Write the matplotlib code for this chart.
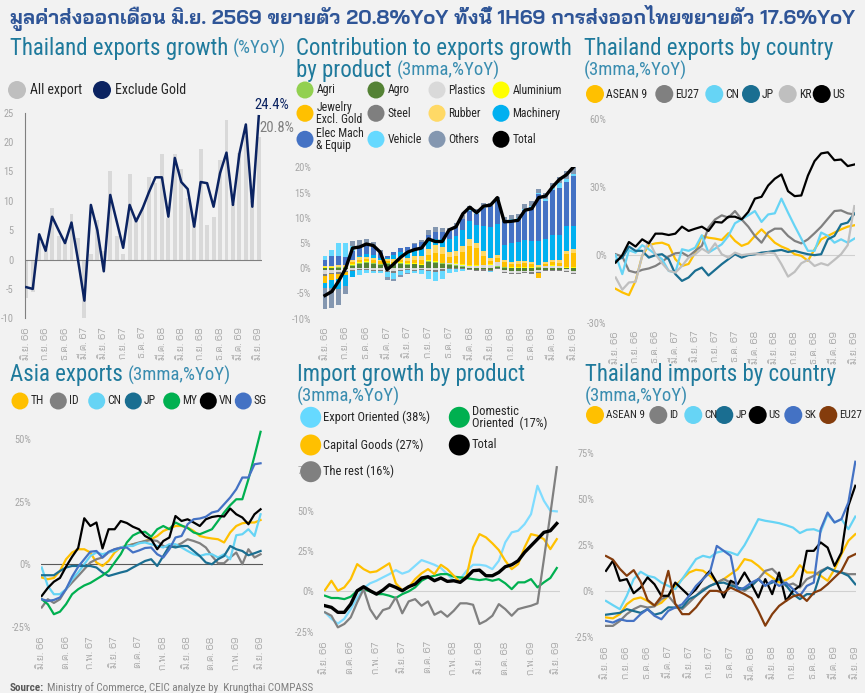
import numpy as np
import matplotlib
matplotlib.use("Agg")
import matplotlib.pyplot as plt
from matplotlib.patches import Circle

# ---------------- data ----------------
months = np.arange(37)  # มิ.ย. 66 ... มิ.ย. 69
labels_3m = ['มิ.ย. 66', 'ก.ย. 66', 'ธ.ค. 66', 'มี.ค. 67', 'มิ.ย. 67', 'ก.ย. 67', 'ธ.ค. 67',
             'มี.ค. 68', 'มิ.ย. 68', 'ก.ย. 68', 'ธ.ค. 68', 'มี.ค. 69', 'มิ.ย. 69']
labels_4m = ['มิ.ย. 66', 'ต.ค. 66', 'ก.พ. 67', 'มิ.ย. 67', 'ต.ค. 67', 'ก.พ. 68', 'มิ.ย. 68',
             'ต.ค. 68', 'ก.พ. 69', 'มิ.ย. 69']

# Thailand exports growth (%YoY)
all_export = [-6.5, -5.5, 3.0, 1.8, 8.7, 4.0, 3.0, 7.8, 3.6, -10.0, 1.0, 6.8, 1.5, 15.0, 4.0, 1.0, 14.5, 7.2, 9.0,
              14.0, 13.0, 18.0, 7.0, 18.0, 15.5, 10.5, 6.0, 18.8, 5.8, 7.2, 17.0, 23.8, 9.5, 18.2, 21.0, 10.0, 20.8]
exclude_gold = [-4.7, -5.0, 4.3, 1.5, 7.3, 5.0, 2.8, 6.3, 0.0, -7.0, 9.3, 5.0, -2.0, 11.0, 6.5, 2.0, 9.3, 6.5, 8.7,
                11.5, 14.0, 14.0, 7.3, 17.3, 13.2, 12.0, 5.6, 13.2, 13.0, 9.0, 14.7, 18.2, 9.3, 18.0, 23.0, 9.0, 24.4]

# Contribution to exports growth by product (3mma, %YoY)
agri = [0.1, 0.1, 0.2, 0.2, 0.2, 0.3, 0.2, 0.2, 0.1, 0.1, 0.1, 0.2, 0.2, 0.1, 0.1, 0.2, 0.2, 0.1, 0.1,
        0.2, 0.1, 0.1, 0.1, 0.1, 0.1, 0.1, 0.2, 0.1, 0.1, 0.1, 0.1, 0.2, 0.1, 0.1, 0.1, 0.1, 0.1]
agro = [-0.4, -0.3, -0.3, -0.2, 0.5, 0.8, 1.0, 0.8, 0.7, 0.9, 0.8, 0.9, 0.7, 0.8, 0.6, 1.2, 1.1, 0.9, 0.7,
        0.4, 0.3, -0.2, -0.3, -0.2, -0.4, 0.3, -0.4, -0.5, -0.6, -0.5, -0.6, -0.4, -0.3, -0.3, -0.4, -0.2, -0.6]
plastics = [-0.8, -0.6, -0.5, -0.3, -0.3, -0.2, -0.2, -0.3, -0.4, -0.5, -0.6, -0.3, -0.2, -0.3, -0.2, -0.3, -0.3,
            -0.2, 0.2, 0.3, 0.3, 0.4, 0.4, 0.5, 0.6, 0.8, -0.3, -0.4, -0.3, -0.3, -0.2, -0.3, 0.3, 0.4, 0.3, -0.3, -0.3]
aluminium = [0.1, 0.1, 0.1, 0.1, 0.1, 0.1, 0.2, 0.1, 0.1, 0.1, 0.1, 0.1, 0.1, 0.1, 0.1, 0.2, 0.2, 0.1, 0.1,
             0.1, 0.1, 0.1, 0.1, 0.1, 0.1, 0.1, 0.1, 0.1, 0.1, 0.1, 0.1, 0.1, 0.1, 0.1, 0.1, 0.1, 0.1]
jewelry = [-1.5, -1.2, -1.0, -0.6, 0.4, 0.5, 0.4, 0.6, 0.5, 0.3, 0.3, 0.4, 0.5, 0.7, 0.8, 1.0, 1.6, 1.8, 1.2,
           1.5, 2.5, 3.8, 3.4, 1.8, 0.6, 0.8, 0.9, 0.6, 0.7, 0.8, 0.6, -1.0, 0.4, 0.6, 0.5, 2.6, 2.8]
steel = [-0.3, -0.2, -0.3, -0.2, -0.2, -0.1, -0.1, -0.2, -0.2, -0.3, -0.3, -0.2, -0.2, -0.2, -0.2, -0.3, -0.4,
         -0.3, -0.2, -0.2, -0.2, -0.2, -0.3, -0.3, -0.2, -0.2, -0.3, -0.3, -0.3, -0.2, -0.3, -0.2, -0.2, -0.2, -0.2, -0.2, -0.3]
rubber = [0.2, 0.3, 0.3, 0.4, 0.4, 0.5, 0.5, 0.4, 0.3, 0.4, 0.5, 0.6, 0.6, 0.7, 0.9, 1.3, 1.5, 1.4, 0.9,
          1.0, 1.1, 1.3, 1.0, 0.9, 0.7, 0.6, 0.5, 0.4, 0.5, 0.5, 0.4, 0.3, 0.4, 0.5, 0.6, 0.7, 0.8]
machinery = [-1.0, -1.6, -2.0, -2.2, -1.2, 0.3, 0.6, 0.5, 0.4, 0.3, 0.8, 1.0, 1.2, 1.3, 1.4, 1.6, 1.2, 1.5, 2.6,
             2.8, 3.2, 3.6, 3.5, 5.0, 6.0, 6.0, 3.0, 3.8, 3.7, 4.0, 4.2, 4.8, 4.5, 4.8, 5.0, 4.8, 4.6]
elec = [1.3, 2.0, 1.8, 1.5, 1.8, 2.0, 2.0, 1.8, 1.0, 0.3, 0.6, 0.8, 1.0, 1.1, 1.2, 1.0, 1.4, 1.3, 1.6,
        1.8, 2.2, 2.0, 2.2, 3.6, 4.3, 4.8, 4.6, 4.5, 4.6, 6.0, 6.8, 9.3, 7.6, 9.0, 9.2, 8.8, 9.8]
vehicle = [0.8, 1.2, 2.6, 2.8, 1.0, -1.0, -0.6, -0.5, -0.4, -1.0, -1.2, -0.8, -0.5, -0.4, -0.8, -1.5, -1.8, -1.6,
           -0.8, -0.5, -0.3, 0.2, 0.3, 0.2, -0.2, 0.2, 0.2, 0.3, 0.2, 0.3, 0.2, 0.2, 0.3, 0.4, 1.0, 0.6, 0.4]
others = [-4.0, -4.0, -3.2, -1.7, 0.9, 1.0, 0.9, 0.8, 0.6, -0.6, -0.5, -0.4, -0.3, 0.2, 0.5, 1.1, 1.0, 0.8, 0.6,
          0.9, 0.8, 0.9, 0.8, 0.7, 0.5, 0.5, 0.6, 0.8, 0.9, 1.0, 0.9, 0.8, 1.2, 1.0, 1.3, 1.5, 1.8]
total_contrib = [-5.4, -4.6, -2.5, 0.0, 4.0, 4.2, 4.8, 4.5, 3.2, -0.3, 0.9, 2.2, 3.2, 3.7, 4.0, 5.8, 5.3, 5.3, 7.6,
                 8.2, 10.8, 12.1, 11.0, 12.3, 12.5, 14.0, 9.2, 9.3, 9.5, 11.5, 11.8, 14.0, 14.3, 16.1, 17.6, 18.5, 20.0]

# Thailand exports by country (3mma, %YoY)
ex_asean = [-15.0, -16.6, -17.8, -11.5, -0.4, 4.3, 5.1, 5.4, 4.3, -1.9, -4.9, -4.0, 1.0, 8.4, 7.6, 7.2, 6.6, 9.6, 6.2,
            4.0, 5.1, 8.4, 11.3, 8.4, 5.4, 3.7, 2.5, 0.3, -0.4, -2.6, 2.5, 6.9, 8.4, 9.9, 11.3, 12.5, 13.1]
ex_eu = [0.3, -0.7, -7.0, -7.8, -6.6, -6.0, -4.9, -3.1, -0.7, 0.7, 1.0, -0.7, 1.8, 4.0, 12.1, 15.7, 17.5, 16.5, 19.4,
         15.7, 12.5, 8.4, 5.4, 9.9, 11.6, 11.6, 8.4, 6.2, 5.1, 6.9, 9.6, 12.5, 16.0, 19.4, 19.7, 18.4, 17.9]
ex_cn = [-0.1, -8.5, 2.1, 1.0, 4.3, 2.5, 0.3, -1.9, -7.1, -7.8, 2.5, 1.8, 3.2, 8.7, 1.0, 2.8, 4.7, 8.4, 14.0,
         15.7, 17.5, 19.4, 14.6, 17.9, 18.4, 24.9, 18.7, 12.8, 7.2, 1.8, 1.8, 9.9, 8.4, 5.4, 6.9, 5.4, 7.2]
ex_jp = [-2.6, -1.2, 3.7, 1.8, 1.8, -1.2, -0.1, 0.3, -1.9, -8.5, -11.5, -10.0, -7.0, -5.6, -9.1, -6.6, -4.1, -1.9, 0.3,
         -1.2, -0.1, 0.3, 1.0, 1.3, 1.8, 2.2, 1.3, 1.8, 1.0, 0.3, -0.1, 0.3, 6.9, 8.4, 13.5, 14.3, 18.4]
ex_kr = [-10.0, -15.4, -12.2, -11.9, -0.4, 6.2, 0.3, -3.7, -7.0, -7.8, -4.9, -1.2, 0.3, 2.8, 1.0, 5.1, 0.3, -1.2, 1.0,
         -0.1, 0.3, 0.6, 0.3, 1.0, 0.7, -4.1, -9.6, -7.5, -3.7, -2.2, -4.9, -3.7, -4.6, -2.2, 0.3, 4.3, 21.6]
ex_us = [-3.4, -0.1, 5.7, 3.7, 6.9, 5.1, 9.4, 9.4, 8.8, 9.4, 12.5, 10.6, 11.6, 12.5, 10.6, 14.6, 14.3, 16.9, 16.9,
         15.7, 19.0, 24.9, 25.7, 30.7, 33.7, 35.6, 28.2, 26.0, 26.3, 35.1, 41.5, 44.9, 45.4, 41.9, 42.2, 39.3, 40.0]

# Asia exports (3mma, %YoY)
as_th = [-5.3, -6.0, -5.5, -2.7, 2.0, 4.7, 6.0, 6.0, 4.7, 0.7, -0.7, 1.3, 4.7, 6.7, 7.3, 8.0, 8.4, 9.3, 10.0,
         11.3, 13.3, 14.3, 15.3, 15.3, 14.7, 13.3, 11.3, 10.7, 10.3, 10.0, 8.7, 12.7, 15.3, 16.4, 16.7, 16.7, 17.7]
as_id = [-17.3, -14.0, -15.5, -14.0, -10.0, -7.3, -4.7, -2.0, 0.7, 2.0, 2.7, 4.7, 6.0, 6.7, 7.3, 8.0, 8.7, 9.3, 9.7,
         9.3, 7.3, 6.7, 7.3, 8.4, 10.0, 9.3, 8.4, 6.7, 3.3, 0.4, 0.4, 2.7, 4.7, 0.0, 6.0, 2.7, 4.0]
as_cn = [-1.3, -8.7, -12.0, -12.0, -10.0, -6.0, -3.3, 0.0, 3.3, 4.7, 4.0, 4.7, 5.3, 6.7, 7.3, 7.3, 8.4, 8.7, 8.0,
         7.3, 6.7, 8.0, 8.0, 6.7, 5.3, 4.0, 3.3, 4.0, 4.0, 2.7, 4.0, 2.0, 11.6, 12.0, 14.0, 11.3, 20.0]
as_jp = [-4.4, -4.4, -4.4, -2.7, -1.3, -0.7, -0.7, -0.7, -0.7, -1.3, -3.3, -4.7, -4.0, -3.3, -2.7, -1.3, 0.0, 1.3, 2.0,
         -0.7, 3.3, 7.3, 6.7, 7.3, 7.3, 5.3, 3.3, 0.7, 0.0, 2.0, 3.3, 7.3, 6.0, 5.3, 3.6, 4.4, 5.3]
as_my = [-14.0, -16.0, -20.0, -19.0, -16.0, -12.0, -10.0, -8.5, -7.5, -6.0, -4.5, -2.7, 0.7, 4.0, 8.7, 11.5, 12.7, 13.0,
         11.0, 14.0, 15.3, 14.0, 16.7, 15.5, 14.5, 12.7, 12.0, 13.0, 14.0, 17.3, 20.7, 23.6, 26.0, 26.0, 34.0, 43.3, 53.0]
as_vn = [-12.7, -9.5, -7.0, -5.5, -1.0, 3.0, 6.5, 18.4, 15.3, 16.7, 6.3, 14.0, 14.0, 17.3, 16.5, 15.0, 14.0, 11.3,
         10.0, 6.0, 9.3, 10.7, 19.3, 17.3, 18.0, 16.7, 15.3, 18.0, 18.9, 19.3, 19.1, 22.3, 20.0, 18.7, 16.0, 20.0, 22.0]
as_sg = [-14.0, -14.7, -14.3, -13.3, -10.0, -5.0, -1.0, 2.0, 5.0, 5.3, 2.7, 5.0, 6.0, 6.5, 6.7, 4.7, 5.5, 6.5, 6.7,
         4.0, 2.7, 6.0, 10.7, 11.3, 16.0, 18.0, 18.3, 19.0, 20.7, 21.3, 24.0, 26.7, 30.0, 34.7, 34.7, 40.0, 40.4]

# Import growth by product (3mma, %YoY)
im_export_or = [-13.0, -17.0, -20.0, -17.0, -11.0, -4.0, 2.0, 5.0, 6.6, 8.7, 10.7, 13.2, 11.0, 12.4, 15.9, 19.4, 18.0,
                16.5, 14.5, 10.7, 6.6, 7.6, 12.8, 16.5, 16.5, 15.9, 13.8, 19.0, 30.4, 36.6, 37.6, 41.7, 47.9, 65.5,
                56.2, 50.0, 49.6]
im_domestic = [-2.7, -4.1, -4.1, -4.8, -3.3, 0.4, 1.4, 0.0, -1.7, -1.7, -2.7, -4.1, -1.7, 0.0, 2.5, 6.6, 8.7, 9.7,
               10.7, 10.7, 9.1, 8.7, 8.3, 7.6, 7.0, 7.6, 6.6, 7.6, 5.0, 1.4, 5.6, 5.6, 7.6, 2.5, 5.6, 8.3, 14.5]
im_capital = [0.8, 6.6, 0.4, 2.5, 7.6, 16.9, 13.8, 11.8, 12.4, 14.9, 17.4, 5.0, 0.8, 2.5, 7.6, 11.2, 13.8, 10.7, 16.5,
              13.8, 9.7, 5.6, 9.7, 27.3, 35.5, 33.5, 29.8, 25.6, 19.0, 13.8, 16.9, 27.3, 35.5, 34.5, 32.4, 26.2, 32.4]
im_rest = [-13.0, -15.1, -22.3, -20.2, -16.1, -6.8, 1.4, -11.0, -17.1, -11.6, -10.3, -3.7, -13.6, -6.2, -4.8, -8.9,
           -6.2, -14.5, -12.4, -15.7, -12.0, -7.4, -7.4, -8.3, -20.2, -18.2, -15.1, -7.9, -11.0, -15.1, -11.0, -9.9,
           -8.9, -7.4, 20.0, 48.0, 77.0]
im_total = [-8.9, -9.9, -13.0, -13.0, -7.9, 0.4, 2.9, 0.4, -1.7, 0.8, 4.1, 2.5, 0.4, 2.9, 4.5, 8.3, 9.1, 6.6, 8.3,
            6.2, 6.6, 5.6, 8.7, 12.8, 13.2, 9.7, 9.7, 11.8, 15.3, 16.5, 19.0, 24.2, 28.3, 32.4, 36.6, 37.6, 42.1]

# Thailand imports by country (3mma, %YoY)
ic_asean = [-14.5, -15.0, -12.7, -7.3, -4.5, -3.6, -5.5, -8.2, -6.5, -2.7, 2.7, 6.4, 10.0, 11.5, 11.0, 8.2, 4.5, 6.4,
            9.1, 11.8, 17.3, 16.4, 13.6, 10.0, 7.3, 4.5, 6.0, 8.2, 14.0, 10.0, 10.0, 8.2, 5.5, 11.8, 20.0, 27.3, 30.9]
ic_id = [-19.1, -19.1, -16.4, -12.7, -10.0, -8.2, -9.1, -8.5, -4.5, -2.7, -7.3, -10.0, -6.4, -2.7, 0.9, 2.7, 4.5, 6.4,
         4.5, 1.8, 0.0, 2.7, 6.4, 10.9, 12.0, 8.2, 2.7, 4.0, 1.8, 6.4, 8.2, 10.9, 12.7, 10.9, 10.0, 9.1, 9.1]
ic_cn = [-5.5, -7.8, -10.0, -2.7, 6.4, 10.4, 8.2, 7.3, 4.5, 2.7, 0.9, 6.4, 11.8, 17.3, 19.1, 18.2, 20.9, 21.8, 20.9,
         19.5, 24.9, 31.8, 39.1, 38.2, 37.6, 36.9, 35.8, 34.5, 31.5, 33.3, 33.6, 32.2, 41.8, 37.3, 39.1, 33.6, 40.5]
ic_jp = [-13.0, -12.5, -12.0, -10.0, -11.0, -12.0, -10.0, -13.0, -12.0, -9.0, -9.1, -9.1, -4.5, -2.7, 0.0, 2.7, 4.2,
         4.5, 3.0, 1.8, 0.9, 2.7, 6.4, 3.0, 4.5, 6.4, 3.0, -1.8, -4.5, -1.8, -1.8, 10.0, 12.7, 10.9, 10.0, 8.2, 3.6]
ic_us = [10.9, 16.4, 5.5, 6.4, -1.3, 1.8, 7.3, 3.6, -2.7, -2.7, 4.5, 0.9, -2.7, 0.9, 6.4, 10.9, 4.5, -3.6, 5.5,
         3.6, 10.0, 3.6, -3.6, 6.4, -1.8, 10.0, -5.5, 0.0, 2.7, 21.8, 21.8, 26.4, 23.6, 13.6, 20.9, 46.4, 57.3]
ic_sk = [-16.4, -17.3, -15.5, -16.4, -16.4, -12.7, -10.0, -13.6, -15.5, -10.9, -9.1, -7.3, -2.7, 2.7, 6.4, 10.0, 24.5,
         21.8, 19.1, 0.0, 1.8, 4.5, 6.4, 2.7, 5.5, 2.7, 4.5, 0.9, -2.7, 2.7, 4.5, 33.6, 42.7, 37.3, 39.1, 48.2, 70.4]
ic_eu = [19.0, 17.0, 12.0, 8.2, 11.3, 5.0, -5.0, -8.0, -3.0, 10.9, -7.0, -12.7, -12.7, -9.0, -4.0, 0.0, 0.0, -1.0,
         1.8, 0.0, -1.8, -4.0, -11.0, -19.0, -12.7, -8.2, -5.5, -3.0, -2.0, -5.5, -1.0, 0.5, 3.6, 7.3, 10.9, 18.2, 20.0]

# ---------------- style ----------------
W, H = 865, 693
BG = "#f2f2f2"
TEAL = "#1f7a9c"
GRAY = "#a6a6a6"
LAT = ["Roboto Condensed", "Bai Jamjuree", "DejaVu Sans"]
THAI = ["Bai Jamjuree", "DejaVu Sans"]
YELLOW, DGRAY, LCYAN, TEALC = "#ffc000", "#808080", "#66d4f5", "#1a6e91"

plt.rcParams["font.family"] = LAT

fig = plt.figure(figsize=(W / 100, H / 100), dpi=100, facecolor=BG)
ov = fig.add_axes([0, 0, 1, 1])
ov.set_xlim(0, W)
ov.set_ylim(H, 0)
ov.axis("off")
ov.set_zorder(10)
renderer = fig.canvas.get_renderer()


def px_axes(x0, y0, x1, y1):
    ax = fig.add_axes([x0 / W, 1 - y1 / H, (x1 - x0) / W, (y1 - y0) / H])
    ax.set_facecolor("none")
    for s in ax.spines.values():
        s.set_visible(False)
    return ax


def style(ax, xlim, ylim, yticks, ylabels, xticks, xlabels, ypad=6, xpad=6):
    ax.set_xlim(*xlim)
    ax.set_ylim(*ylim)
    ax.set_yticks(yticks, ylabels)
    ax.set_xticks(xticks, xlabels, rotation=90, family=THAI)
    ax.tick_params(axis="both", length=0, colors=GRAY, labelsize=7.5)
    ax.tick_params(axis="y", pad=ypad)
    ax.tick_params(axis="x", pad=xpad)


def head(x, y, main, sub=None):
    t = ov.text(x, y, main, fontsize=16.5, color=TEAL, va="center", ha="left")
    if sub:
        x_end = t.get_window_extent(renderer).x1 if main else x - 5
        ov.text(x_end + 5, y, sub, fontsize=13.5, color="#3a8db0", va="center", ha="left")


def dot(x, y, color, label, r=9, size=9, gap=4):
    ov.add_patch(Circle((x, y), r, color=color, lw=0))
    ov.text(x + r + gap, y, label, fontsize=size, va="center", ha="left", color="#262626", linespacing=0.9)


def pct(v):
    return ["%d%%" % t for t in v]


# ---------------- main title ----------------
title = ov.text(W / 2, 18, "มูลค่าส่งออกเดือน มิ.ย. 2569 ขยายตัว 20.8%YoY ทั้งนี้ 1H69 การส่งออกไทยขยายตัว 17.6%YoY",
                fontsize=17, fontweight="bold", family=THAI, color="#2f5597", ha="center", va="center")
tw = title.get_window_extent(renderer).width
title.set_fontsize(17 * 845 / tw)

# ---------------- panel 1 ----------------
head(10, 48, "Thailand exports growth", "(%YoY)")
dot(17, 90, "#bfbfbf", "All export", size=10)
dot(102, 90, "#0b2361", "Exclude Gold", size=10)
ax1 = px_axes(25, 112.7, 262, 318.3)
ax1.bar(months, all_export, 0.6, color="#d9d9d9", zorder=1)
ax1.plot(months, exclude_gold, color="#0b2361", lw=1.8, zorder=3)
ax1.axhline(0, color="#808080", lw=0.8, zorder=2)
ax1.spines["left"].set_visible(True)
ax1.spines["left"].set_color("#808080")
ax1.spines["left"].set_linewidth(0.8)
style(ax1, (-0.2, 36.5), (-10, 25), range(-10, 30, 5), [str(v) for v in range(-10, 30, 5)],
      months[::3], labels_3m, ypad=8, xpad=6.5)
ov.text(254, 105, "%.1f%%" % exclude_gold[-1], color="#0b2361", fontsize=10.5, va="center")
ov.text(259, 128, "%.1f%%" % all_export[-1], color="#7f7f7f", fontsize=10.5, va="center")

# ---------------- panel 2 ----------------
head(296, 48, "Contribution to exports growth")
head(296, 70, "by product", "(3mma,%YoY)")
contrib = [agro, agri, plastics, steel, aluminium, jewelry, rubber, machinery, elec, vehicle, others]
contrib_colors = ["#548235", "#92d050", "#d9d9d9", "#7f7f7f", "#ffff00", YELLOW, "#ffd966", "#00b0f0",
                  "#4472c4", "#66d9ff", "#8497b0"]
ax2 = px_axes(319.5, 167.3, 578.7, 318.7)
pos_base = np.zeros(len(months))
neg_base = np.zeros(len(months))
for vals, col in zip(contrib, contrib_colors):
    v = np.array(vals)
    p = np.where(v > 0, v, 0)
    n = np.where(v < 0, v, 0)
    ax2.bar(months, p, 0.72, bottom=pos_base, color=col, lw=0)
    ax2.bar(months, n, 0.72, bottom=neg_base, color=col, lw=0)
    pos_base += p
    neg_base += n
ax2.plot(months, total_contrib, color="black", lw=2.4, zorder=5)
style(ax2, (-0.8, 36.8), (-10, 20), range(-10, 25, 5), pct(range(-10, 25, 5)), months[::3], labels_3m,
      ypad=6, xpad=6)
legend2 = [("Agri", "#92d050"), ("Agro", "#548235"), ("Plastics", "#d9d9d9"), ("Aluminium", "#ffff00"),
           ("Jewelry\nExcl. Gold", YELLOW), ("Steel", "#7f7f7f"), ("Rubber", "#ffd966"), ("Machinery", "#00b0f0"),
           ("Elec Mach\n& Equip", "#4472c4"), ("Vehicle", "#66d9ff"), ("Others", "#8497b0"), ("Total", "black")]
cols2 = [305, 376, 437, 501]
rows2 = [90, 113.3, 139.3]
for k, (lab, col) in enumerate(legend2):
    dot(cols2[k % 4], rows2[k // 4], col, lab, r=8.5, size=8.5, gap=3)

# ---------------- panel 3 ----------------
head(584, 48, "Thailand exports by country")
head(584, 70, "", "(3mma,%YoY)")
ax3 = px_axes(615, 119.3, 855, 322.7)
ax3.axhline(0, color="#d0d0d0", lw=0.8)
for vals, col in [(ex_asean, YELLOW), (ex_eu, DGRAY), (ex_cn, LCYAN), (ex_jp, TEALC), (ex_kr, "#bfbfbf"),
                  (ex_us, "black")]:
    ax3.plot(months, vals, color=col, lw=1.6)
style(ax3, (-0.1, 36.1), (-30, 60), [-30, 0, 30, 60], pct([-30, 0, 30, 60]), months[::3], labels_3m,
      ypad=6, xpad=6)
for x, col, lab in [(595, YELLOW, "ASEAN 9"), (664.3, DGRAY, "EU27"), (714.3, LCYAN, "CN"), (751, TEALC, "JP"),
                    (787.7, "#bfbfbf", "KR"), (821.7, "black", "US")]:
    dot(x, 94, col, lab, r=9, size=8.5, gap=2)

# ---------------- panel 4 ----------------
head(10, 375, "Asia exports", "(3mma,%YoY)")
ax4 = px_axes(41.1, 426.8, 263, 626.7)
ax4.axhline(0, color="#595959", lw=0.8)
for vals, col in [(as_th, YELLOW), (as_id, DGRAY), (as_cn, LCYAN), (as_jp, TEALC), (as_my, "#00b050"),
                  (as_vn, "black"), (as_sg, "#4472c4")]:
    ax4.plot(months, vals, color=col, lw=1.6)
style(ax4, (-0.1, 36.4), (-25, 55), [-25, 0, 25, 50], pct([-25, 0, 25, 50]), months[::4], labels_4m,
      ypad=7, xpad=7)
for x, col, lab in [(20, YELLOW, "TH"), (58.3, DGRAY, "ID"), (96.7, LCYAN, "CN"), (133.3, TEALC, "JP"),
                    (171.7, "#00b050", "MY"), (208.3, "black", "VN"), (243.3, "#4472c4", "SG")]:
    dot(x, 401, col, lab, r=8.5, size=8.5, gap=2)

# ---------------- panel 5 ----------------
head(297, 374, "Import growth by product")
head(297, 396, "", "(3mma,%YoY)")
ax5 = px_axes(323.7, 465.6, 560, 631.7)
ax5.axhline(0, color="#d0d0d0", lw=0.8)
for vals, col, lw in [(im_export_or, "#7fdcff", 1.6), (im_domestic, "#00b050", 1.6), (im_capital, YELLOW, 1.6),
                      (im_rest, DGRAY, 1.6), (im_total, "black", 2.4)]:
    ax5.plot(months, vals, color=col, lw=lw)
style(ax5, (-0.2, 36.5), (-25, 78), [-25, 0, 25, 50, 75], pct([-25, 0, 25, 50, 75]), months[::4], labels_4m,
      ypad=7, xpad=7)
dot(310.7, 417.3, "#66d9ff", "Export Oriented (38%)", r=10.5, size=9, gap=2)
dot(459.3, 417.3, "#00b050", "Domestic\nOriented  (17%)", r=10.5, size=9, gap=2)
dot(310.7, 445, YELLOW, "Capital Goods (27%)", r=10.5, size=9, gap=2)
dot(459.3, 445, "black", "Total", r=10.5, size=9, gap=2)
dot(310.7, 471.7, DGRAY, "The rest (16%)", r=10.5, size=9, gap=2)

# ---------------- panel 6 ----------------
head(585, 374, "Thailand imports by country")
head(585, 396, "", "(3mma,%YoY)")
ax6 = px_axes(605.3, 453.3, 856, 636.7)
ax6.axhline(0, color="#d0d0d0", lw=0.8)
for vals, col in [(ic_asean, YELLOW), (ic_id, DGRAY), (ic_cn, LCYAN), (ic_jp, TEALC), (ic_us, "black"),
                  (ic_sk, "#4472c4"), (ic_eu, "#843c0c")]:
    ax6.plot(months, vals, color=col, lw=1.6)
style(ax6, (-0.1, 36.1), (-25, 75), [-25, 0, 25, 50, 75], pct([-25, 0, 25, 50, 75]), months[::3], labels_3m,
      ypad=8, xpad=7)
for x, col, lab in [(595, YELLOW, "ASEAN 9"), (658.3, DGRAY, "ID"), (693.3, LCYAN, "CN"), (724.3, TEALC, "JP"),
                    (757.7, "black", "US"), (793.3, "#4472c4", "SK"), (828.3, "#843c0c", "EU27")]:
    dot(x, 415, col, lab, r=9, size=8, gap=2)

# ---------------- source ----------------
src = ov.text(10, 688, "Source:", fontsize=8, fontweight="bold", color="#595959", va="center")
sx = src.get_window_extent(renderer).x1
ov.text(sx + 3, 688, "Ministry of Commerce, CEIC analyze by  Krungthai COMPASS", fontsize=8, color="#808080",
        va="center")

fig.savefig("out.png", dpi=100, facecolor=BG)
